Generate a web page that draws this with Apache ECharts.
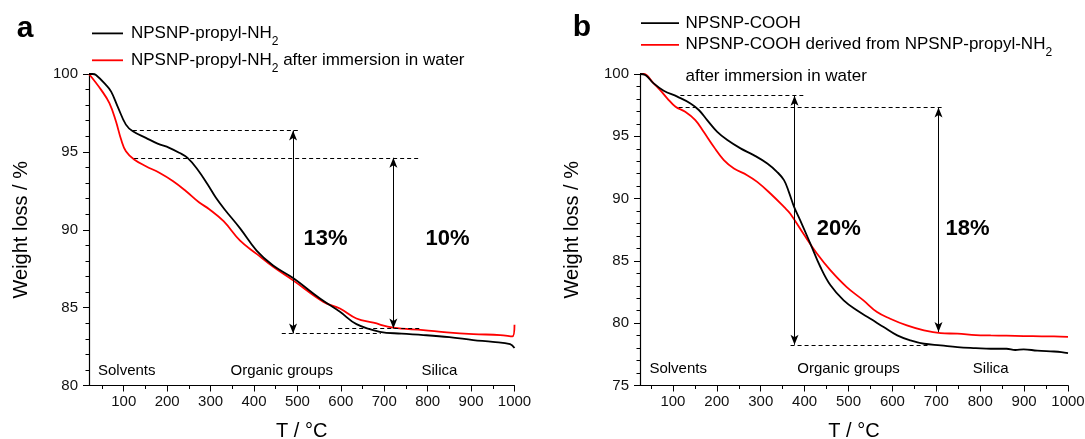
<!DOCTYPE html>
<html>
<head>
<meta charset="utf-8">
<script src="https://cdn.jsdelivr.net/npm/echarts@6/dist/echarts.min.js"></script>
<style>
  html, body { margin: 0; padding: 0; background: #fff; }
  #chart { width: 1085px; height: 439px; }
</style>
</head>
<body>
<div id="chart"></div>
<script>
// panel a: NPSNP-propyl-NH2
const aBlackT = [20, 28, 36, 59, 71, 86, 105, 121, 151, 178, 205, 228, 247, 270, 293, 312, 332, 368, 406, 444, 490, 552, 598, 636, 690, 740, 790, 850, 905, 950, 990, 1000]
const aBlackW = [100, 100, 99.94, 99.3, 98.87, 97.91, 96.75, 96.32, 95.9, 95.53, 95.26, 94.94, 94.62, 93.87, 92.92, 92.07, 91.32, 90.09, 88.66, 87.7, 86.9, 85.58, 84.73, 83.94, 83.45, 83.33, 83.24, 83.1, 82.92, 82.8, 82.65, 82.4]
const aRedT = [20, 48, 67, 82, 94, 105, 124, 151, 182, 213, 243, 274, 297, 330, 368, 406, 445, 490, 560, 598, 636, 675, 721, 790, 844, 905, 967, 995, 1000]
const aRedW = [100, 98.98, 98.13, 96.96, 95.79, 95.04, 94.51, 94.08, 93.66, 93.13, 92.49, 91.75, 91.32, 90.55, 89.3, 88.45, 87.6, 86.75, 85.37, 84.94, 84.3, 84.03, 83.71, 83.56, 83.41, 83.3, 83.24, 83.15, 83.9]

// panel b: NPSNP-COOH
const bBlackT = [25, 37, 56, 79, 110, 140, 159, 178, 201, 224, 254, 284, 315, 337, 353, 364, 376, 390, 413, 436, 459, 489, 519, 550, 580, 611, 641, 672, 710, 748, 790, 824, 860, 880, 899, 930, 968, 985, 1000]
const bBlackW = [100, 99.92, 99.25, 98.66, 98.18, 97.64, 97.11, 96.3, 95.36, 94.7, 94.03, 93.49, 92.82, 92.15, 91.48, 90.54, 89.33, 88.26, 86.39, 84.51, 83.04, 81.83, 81.03, 80.36, 79.69, 79.02, 78.62, 78.35, 78.22, 78.08, 78.0, 77.95, 77.95, 77.85, 77.9, 77.8, 77.73, 77.68, 77.6]
const bRedT = [25, 33, 56, 71, 87, 106, 128, 151, 170, 193, 216, 239, 269, 292, 322, 353, 367, 397, 428, 459, 496, 534, 565, 595, 633, 672, 710, 748, 790, 824, 860, 899, 940, 968, 1000]
const bRedW = [100, 100, 99.25, 98.71, 98.05, 97.37, 96.97, 96.3, 95.36, 94.16, 93.09, 92.42, 91.88, 91.34, 90.41, 89.33, 88.8, 87.19, 85.59, 84.24, 82.9, 81.83, 80.89, 80.36, 79.82, 79.42, 79.2, 79.16, 79.05, 79.02, 79.0, 78.97, 78.95, 78.94, 78.9]

// annotations: dashed [x1, x2, y], arrows [x, yTop, yBottom]
const aDashes = [[121, 501, 96.38], [124, 779, 94.62], [464, 692, 83.34], [594, 786, 83.66]]
const aArrows = [[490, 96.38, 83.34], [721, 94.62, 83.66]]
const bDashes = [[117, 397, 98.26], [113, 718, 97.32], [368, 680, 78.27]]
const bArrows = [[377, 98.26, 78.27], [705, 97.32, 79.3]]

const aPctText = ['13%', '10%']
const aPctT = [565, 846]
const aPctW = 89.4
const bPctText = ['20%', '18%']
const bPctT = [478, 771]
const bPctW = 87.6
const regionNames = ['Solvents', 'Organic groups', 'Silica']
const aRegionT = [107, 464, 827]
const aRegionW = 80.94
const bRegionT = [112, 500, 824]
const bRegionW = 76.3

const xTicks = [100, 200, 300, 400, 500, 600, 700, 800, 900, 1000]

const FONT = 'Liberation Sans, Arial, sans-serif'
const zip = (xs, ys) => xs.map((x, i) => [x, ys[i]])

const chart = echarts.init(document.getElementById('chart'), null, { renderer: 'canvas' })

function markLines(dashes, arrows) {
  const out = []
  dashes.forEach(d => {
    out.push([
      { coord: [d[0], d[2]], symbol: 'none', lineStyle: { type: [4, 3], width: 1, color: '#000' } },
      { coord: [d[1], d[2]], symbol: 'none' }
    ])
  })
  arrows.forEach(a => {
    out.push([
      { coord: [a[0], a[1]], symbol: 'arrow', symbolSize: [6, 10], lineStyle: { type: 'solid', width: 1, color: '#000' } },
      { coord: [a[0], a[2]], symbol: 'arrow', symbolSize: [6, 10] }
    ])
  })
  return {
    silent: true,
    animation: false,
    label: { show: false },
    emphasis: { disabled: true },
    data: out
  }
}

function labelSeries(idx, names, ts, w, big) {
  return {
    type: 'scatter',
    xAxisIndex: idx,
    yAxisIndex: idx,
    symbolSize: 0,
    silent: true,
    itemStyle: { opacity: 1 },
    data: names.map((n, i) => ({ value: [ts[i], w], name: n })),
    label: {
      show: true,
      position: 'inside',
      formatter: p => p.name,
      color: '#000',
      fontFamily: FONT,
      fontSize: big ? 22 : 15,
      fontWeight: big ? 'bold' : 'normal'
    }
  }
}

function xAxisOf(idx, min) {
  return {
    gridIndex: idx,
    type: 'value',
    min: min,
    max: 1000,
    splitNumber: 10,
    name: 'T / °C',
    nameLocation: 'middle',
    nameGap: 36,
    nameTextStyle: { fontSize: 20, fontFamily: FONT, color: '#000' },
    axisLine: { show: true, lineStyle: { color: '#000', width: 1.2 } },
    axisTick: { show: true, length: 6, lineStyle: { color: '#000' }, customValues: xTicks },
    minorTick: { show: true, splitNumber: 2, length: 3.5, lineStyle: { color: '#000' } },
    axisLabel: { fontSize: 15, fontFamily: FONT, color: '#111', margin: 9, customValues: xTicks, formatter: v => String(v) },
    splitLine: { show: false }
  }
}

function yAxisOf(idx, min) {
  return {
    gridIndex: idx,
    type: 'value',
    min: min,
    max: 100,
    interval: 5,
    name: 'Weight loss / %',
    nameLocation: 'middle',
    nameGap: 58,
    nameTextStyle: { fontSize: 20, fontFamily: FONT, color: '#000' },
    axisLine: { show: true, lineStyle: { color: '#000', width: 1.2 } },
    axisTick: { show: true, length: 6, lineStyle: { color: '#000' } },
    minorTick: { show: true, splitNumber: 5, length: 3.5, lineStyle: { color: '#000' } },
    axisLabel: { fontSize: 15, fontFamily: FONT, color: '#111', margin: 11 },
    splitLine: { show: false }
  }
}

function curve(name, idx, data, color, ml) {
  const s = {
    name: name,
    type: 'line',
    xAxisIndex: idx,
    yAxisIndex: idx,
    data: data,
    showSymbol: false,
    smooth: 0.4,
    lineStyle: { color: color, width: 1.8 },
    itemStyle: { color: color },
    z: color === '#ff0000' ? 2 : 3
  }
  if (ml) s.markLine = ml
  return s
}

const legendText = (x, y, text) => ({
  type: 'text',
  x: x,
  y: y,
  silent: true,
  style: {
    text: text,
    fontSize: 17,
    fontFamily: FONT,
    fill: '#000',
    align: 'left',
    verticalAlign: 'middle',
    lineHeight: 28,
    rich: {
      s: { fontSize: 12, fontFamily: FONT, lineHeight: 28, verticalAlign: 'bottom', fill: '#000' }
    }
  }
})
const legendLine = (x1, x2, y, color) => ({
  type: 'line',
  silent: true,
  shape: { x1: x1, y1: y, x2: x2, y2: y },
  style: { stroke: color, lineWidth: 1.8 }
})
const panelLetter = (x, y, t) => ({
  type: 'text',
  x: x,
  y: y,
  silent: true,
  style: { text: t, fontSize: 30, fontWeight: 'bold', fontFamily: FONT, fill: '#000', align: 'center', verticalAlign: 'middle' }
})

const option = {
  animation: false,
  backgroundColor: '#fff',
  grid: [
    { left: 89, top: 74, width: 425.5, height: 311.5, outerBoundsMode: 'none', containLabel: false },
    { left: 640, top: 74, width: 428, height: 311.5, outerBoundsMode: 'none', containLabel: false }
  ],
  xAxis: [xAxisOf(0, 20), xAxisOf(1, 25)],
  yAxis: [yAxisOf(0, 80), yAxisOf(1, 75)],
  series: [
    curve('NPSNP-propyl-NH2 after immersion in water', 0, zip(aRedT, aRedW), '#ff0000'),
    curve('NPSNP-propyl-NH2', 0, zip(aBlackT, aBlackW), '#000000', markLines(aDashes, aArrows)),
    curve('NPSNP-COOH derived from NPSNP-propyl-NH2 after immersion in water', 1, zip(bRedT, bRedW), '#ff0000'),
    curve('NPSNP-COOH', 1, zip(bBlackT, bBlackW), '#000000', markLines(bDashes, bArrows)),
    labelSeries(0, aPctText, aPctT, aPctW, true),
    labelSeries(0, regionNames, aRegionT, aRegionW, false),
    labelSeries(1, bPctText, bPctT, bPctW, true),
    labelSeries(1, regionNames, bRegionT, bRegionW, false)
  ],
  graphic: [
    panelLetter(25, 29, 'a'),
    panelLetter(582, 28, 'b'),
    legendLine(92, 123, 33.4, '#000'),
    legendText(131, 33.4, 'NPSNP-propyl-NH{s|2}'),
    legendLine(92, 123, 60.3, '#ff0000'),
    legendText(131, 60.3, 'NPSNP-propyl-NH{s|2} after immersion in water'),
    legendLine(641, 679, 23.1, '#000'),
    legendText(685.5, 23.1, 'NPSNP-COOH'),
    legendLine(641, 679, 44.8, '#ff0000'),
    legendText(685.5, 44.8, 'NPSNP-COOH derived from NPSNP-propyl-NH{s|2}'),
    legendText(685.5, 76.4, 'after immersion in water')
  ]
}

chart.setOption(option)
</script>
</body>
</html>
